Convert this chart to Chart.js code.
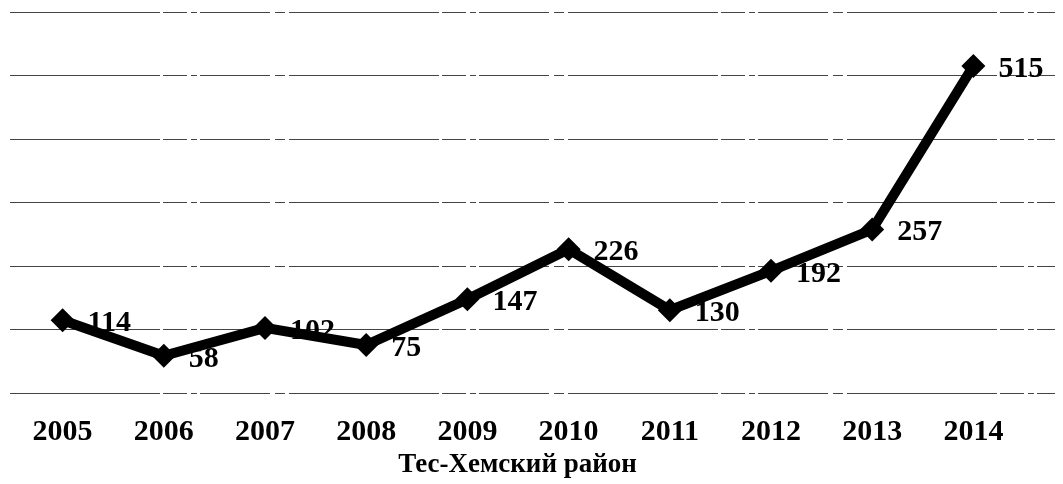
<!DOCTYPE html>
<html>
<head>
<meta charset="utf-8">
<script src="https://cdn.jsdelivr.net/npm/chart.js@4/dist/chart.umd.min.js"></script>
<style>
  html, body { margin: 0; padding: 0; background: #fff; }
  #wrap { width: 1063px; height: 484px; }
</style>
</head>
<body>
<div id="wrap"><canvas id="chart"></canvas></div>
<script>
// данные
var years = ["2005", "2006", "2007", "2008", "2009", "2010", "2011", "2012", "2013", "2014"];
var values = [114, 58, 102, 75, 147, 226, 130, 192, 257, 515];
var chartTitle = "Тес-Хемский район";

var serif = "'Liberation Serif', 'Times New Roman', serif";

// линии сетки (пунктир как на скане) от края до края
var gridPlugin = {
  id: "wideGrid",
  beforeDatasetsDraw: function (chart) {
    var ctx = chart.ctx;
    var y = chart.scales.y;
    ctx.save();
    ctx.strokeStyle = "#444";
    ctx.lineWidth = 1;
    ctx.setLineDash([150, 3, 24, 4, 6, 3, 70, 5, 10, 4]);
    y.ticks.forEach(function (t) {
      var py = Math.round(y.getPixelForValue(t.value)) + 0.5;
      ctx.beginPath();
      ctx.moveTo(10, py);
      ctx.lineTo(1055, py);
      ctx.stroke();
    });
    ctx.restore();
  }
};

// подписи значений справа от точек
var labelPlugin = {
  id: "valueLabels",
  afterDatasetsDraw: function (chart) {
    var ctx = chart.ctx;
    var meta = chart.getDatasetMeta(0);
    ctx.save();
    ctx.font = "bold 30px " + serif;
    ctx.fillStyle = "#000";
    ctx.textAlign = "left";
    ctx.textBaseline = "middle";
    meta.data.forEach(function (pt, i) {
      ctx.fillText(String(values[i]), pt.x + 25, pt.y + 3);
    });
    ctx.restore();
  }
};

var ctx = document.getElementById("chart").getContext("2d");
var chart = new Chart(ctx, {
  type: "line",
  data: {
    labels: years,
    datasets: [{
      data: values,
      borderColor: "#000",
      backgroundColor: "#000",
      borderWidth: 10,
      pointStyle: "rectRot",
      pointRadius: 12,
      pointHoverRadius: 12,
      pointBackgroundColor: "#000",
      pointBorderColor: "#000",
      pointBorderWidth: 0,
      tension: 0,
      fill: false
    }]
  },
  options: {
    responsive: true,
    maintainAspectRatio: false,
    animation: false,
    layout: { padding: { left: 11, right: 39, top: 12, bottom: 0 } },
    plugins: {
      legend: { display: false },
      tooltip: { enabled: false },
      title: {
        display: true,
        position: "bottom",
        text: chartTitle,
        color: "#000",
        font: { family: serif, size: 27, weight: "bold" },
        padding: { top: 1, bottom: 3 }
      }
    },
    scales: {
      x: {
        offset: true,
        grid: { display: false, drawTicks: false },
        border: { display: false },
        afterFit: function (scale) { scale.height = 55; },
        ticks: {
          color: "#000",
          padding: 22,
          font: { family: serif, size: 30, weight: "bold" }
        }
      },
      y: {
        display: false,
        min: 0,
        max: 600,
        ticks: { stepSize: 100 }
      }
    }
  },
  plugins: [gridPlugin, labelPlugin]
});
</script>
</body>
</html>
